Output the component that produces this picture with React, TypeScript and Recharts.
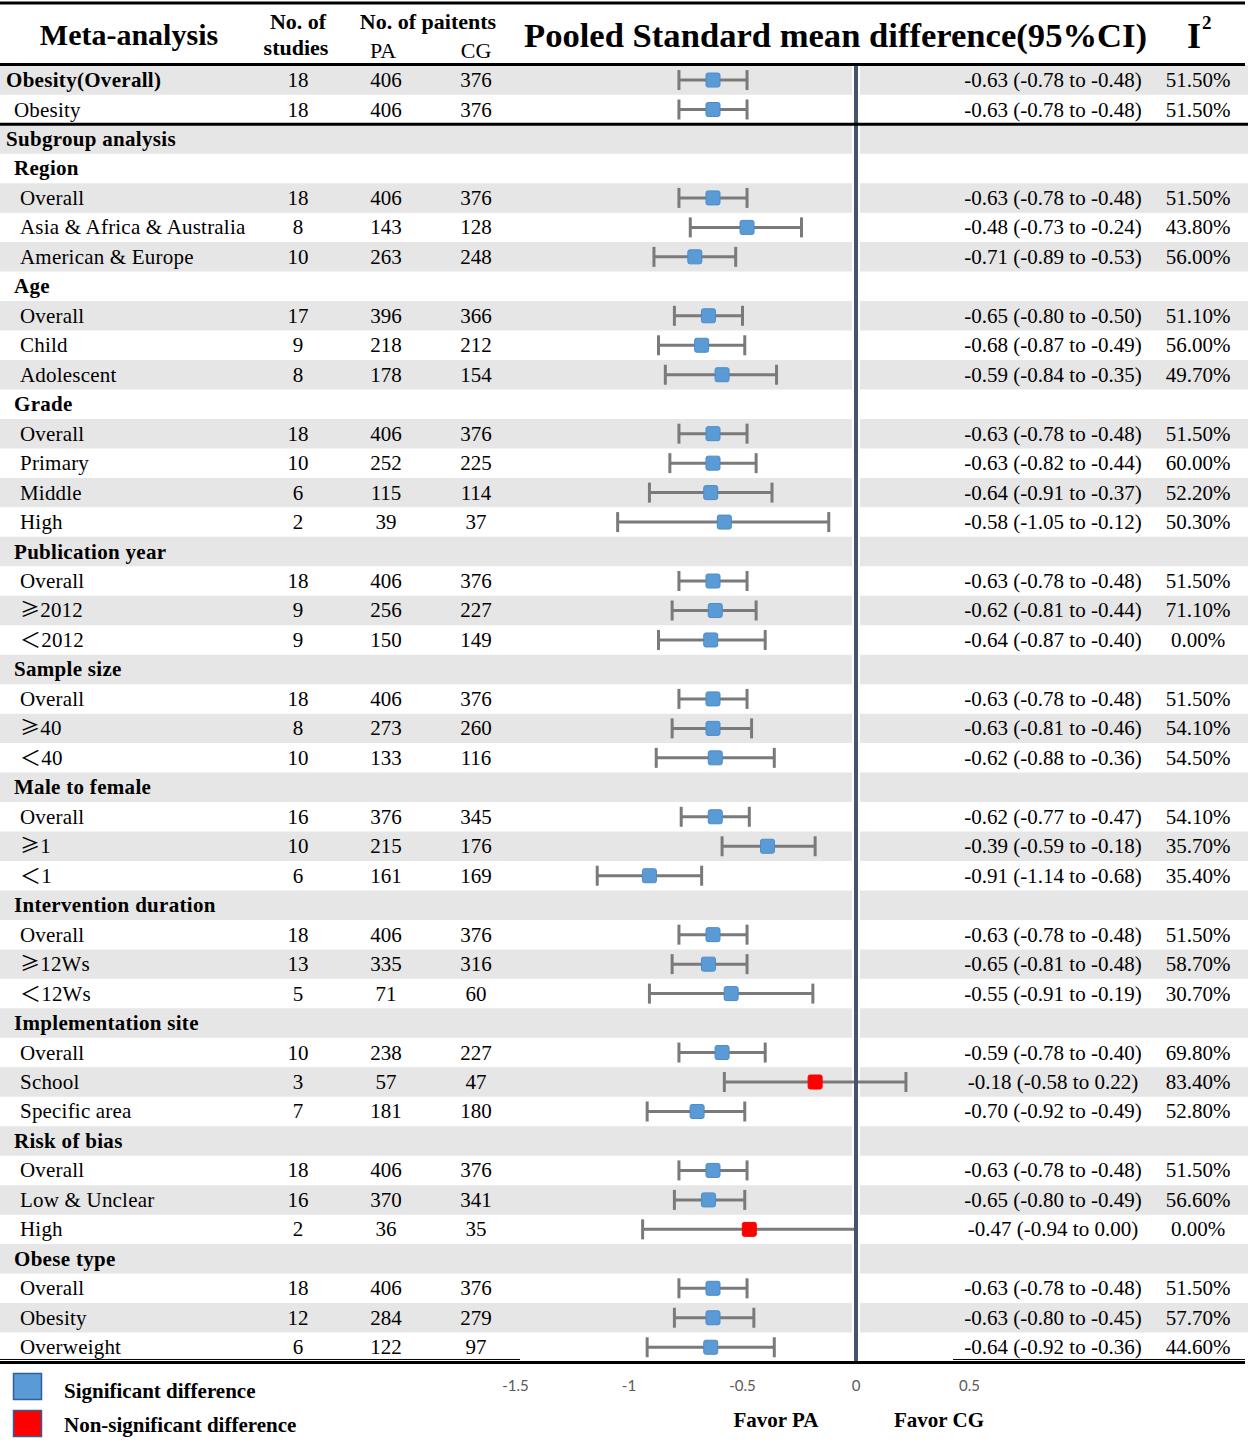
import React from 'react';
import { ComposedChart, Scatter, ErrorBar, XAxis, YAxis, ReferenceArea, ReferenceLine } from 'recharts';

// ---------- data ----------
const labels = [
  'Obesity(Overall)', 'Obesity', 'Subgroup analysis',
  'Region', 'Overall', 'Asia & Africa & Australia', 'American & Europe',
  'Age', 'Overall', 'Child', 'Adolescent',
  'Grade', 'Overall', 'Primary', 'Middle', 'High',
  'Publication year', 'Overall', '≥2012', '＜2012',
  'Sample size', 'Overall', '≥40', '＜40',
  'Male to female', 'Overall', '≥1', '＜1',
  'Intervention duration', 'Overall', '≥12Ws', '＜12Ws',
  'Implementation site', 'Overall', 'School', 'Specific area',
  'Risk of bias', 'Overall', 'Low & Unclear', 'High',
  'Obese type', 'Overall', 'Obesity', 'Overweight',
];
// T = bold title, G = bold group header, A = plain (outdented), I = plain item
const rowStyle = [
  'T', 'A', 'T',
  'G', 'I', 'I', 'I',
  'G', 'I', 'I', 'I',
  'G', 'I', 'I', 'I', 'I',
  'G', 'I', 'I', 'I',
  'G', 'I', 'I', 'I',
  'G', 'I', 'I', 'I',
  'G', 'I', 'I', 'I',
  'G', 'I', 'I', 'I',
  'G', 'I', 'I', 'I',
  'G', 'I', 'I', 'I',
];
const n = null;
const studies = [18, 18, n, n, 18, 8, 10, n, 17, 9, 8, n, 18, 10, 6, 2, n, 18, 9, 9, n, 18, 8, 10, n, 16, 10, 6, n, 18, 13, 5, n, 10, 3, 7, n, 18, 16, 2, n, 18, 12, 6];
const pa = [406, 406, n, n, 406, 143, 263, n, 396, 218, 178, n, 406, 252, 115, 39, n, 406, 256, 150, n, 406, 273, 133, n, 376, 215, 161, n, 406, 335, 71, n, 238, 57, 181, n, 406, 370, 36, n, 406, 284, 122];
const cg = [376, 376, n, n, 376, 128, 248, n, 366, 212, 154, n, 376, 225, 114, 37, n, 376, 227, 149, n, 376, 260, 116, n, 345, 176, 169, n, 376, 316, 60, n, 227, 47, 180, n, 376, 341, 35, n, 376, 279, 97];
const est = [-0.63, -0.63, n, n, -0.63, -0.48, -0.71, n, -0.65, -0.68, -0.59, n, -0.63, -0.63, -0.64, -0.58, n, -0.63, -0.62, -0.64, n, -0.63, -0.63, -0.62, n, -0.62, -0.39, -0.91, n, -0.63, -0.65, -0.55, n, -0.59, -0.18, -0.70, n, -0.63, -0.65, -0.47, n, -0.63, -0.63, -0.64];
const lo = [-0.78, -0.78, n, n, -0.78, -0.73, -0.89, n, -0.80, -0.87, -0.84, n, -0.78, -0.82, -0.91, -1.05, n, -0.78, -0.81, -0.87, n, -0.78, -0.81, -0.88, n, -0.77, -0.59, -1.14, n, -0.78, -0.81, -0.91, n, -0.78, -0.58, -0.92, n, -0.78, -0.80, -0.94, n, -0.78, -0.80, -0.92];
const hi = [-0.48, -0.48, n, n, -0.48, -0.24, -0.53, n, -0.50, -0.49, -0.35, n, -0.48, -0.44, -0.37, -0.12, n, -0.48, -0.44, -0.40, n, -0.48, -0.46, -0.36, n, -0.47, -0.18, -0.68, n, -0.48, -0.48, -0.19, n, -0.40, 0.22, -0.49, n, -0.48, -0.49, 0.00, n, -0.48, -0.45, -0.36];
const i2 = ['51.50%', '51.50%', n, n, '51.50%', '43.80%', '56.00%', n, '51.10%', '56.00%', '49.70%', n, '51.50%', '60.00%', '52.20%', '50.30%', n, '51.50%', '71.10%', '0.00%', n, '51.50%', '54.10%', '54.50%', n, '54.10%', '35.70%', '35.40%', n, '51.50%', '58.70%', '30.70%', n, '69.80%', '83.40%', '52.80%', n, '51.50%', '56.60%', '0.00%', n, '51.50%', '57.70%', '44.60%'];
const xTicks = [-1.5, -1, -0.5, 0, 0.5];

// ---------- layout ----------
const W = 1248;
const H = 1452;
const ZERO_X = 856;
const UNIT = 227;
const XMIN = -ZERO_X / UNIT;
const XMAX = (W - ZERO_X) / UNIT;
const TOP = 65.3;
const ROW_H = 29.47;
const NROWS = labels.length;
const PLOT_BOTTOM = TOP + NROWS * ROW_H;
const XAXIS_H = 30;
const BOTTOM_MARGIN = H - PLOT_BOTTOM - XAXIS_H;

const SERIF = '"Liberation Serif", "Times New Roman", "Noto Sans CJK SC", serif';
const CJK = '"Noto Sans CJK SC", "Liberation Serif", serif';
const SANS = 'Lato, "Liberation Sans", sans-serif';
const BLUE = '#5B9BD5';
const RED = '#FF0000';
const BAND = '#E7E6E6';

const fmt = (v: number) => v.toFixed(2);

const points = est
  .map((e, i) =>
    e == null
      ? null
      : { x: e, y: i, err: [e - (lo[i] as number), (hi[i] as number) - e], sig: (hi[i] as number) < 0 }
  )
  .filter(Boolean) as any[];

const rowIdx = labels.map((_, i) => i);
const bandRows = rowIdx.filter((i) => i % 2 === 0);
const rowPoints = rowIdx.map((i) => ({ x: 0, y: i, row: i }));

const LabelText = ({ s }: { s: string }) => {
  const first = s.charAt(0);
  if (first === '≥' || first === '＜') {
    return (
      <>
        <tspan fontFamily={CJK} fontSize={first === '≥' ? 20 : 21}>{first}</tspan>
        <tspan>{s.slice(1)}</tspan>
      </>
    );
  }
  return <>{s}</>;
};

const RowText = (props: any) => {
  const { cy, payload } = props;
  const i = payload.row as number;
  const st = rowStyle[i];
  const bold = st === 'T' || st === 'G';
  const lx = st === 'T' ? 6 : st === 'I' ? 20 : 14;
  const by = cy + 7;
  return (
    <g fontFamily={SERIF} fontSize={21} fill="#000">
      <text x={lx} y={by} fontWeight={bold ? 'bold' : 'normal'} fill="#000" letterSpacing={bold ? 0.3 : 0.2}>
        <LabelText s={labels[i]} />
      </text>
      {studies[i] != null && (
        <text x={298} y={by} textAnchor="middle" fill="#000">{studies[i]}</text>
      )}
      {pa[i] != null && (
        <text x={386} y={by} textAnchor="middle" fill="#000">{pa[i]}</text>
      )}
      {cg[i] != null && (
        <text x={476} y={by} textAnchor="middle" fill="#000">{cg[i]}</text>
      )}
      {est[i] != null && (
        <text x={1053} y={by} textAnchor="middle" fill="#000">
          {`${fmt(est[i] as number)} (${fmt(lo[i] as number)} to ${fmt(hi[i] as number)})`}
        </text>
      )}
      {i2[i] != null && (
        <text x={1198} y={by} textAnchor="middle" fill="#000">{i2[i]}</text>
      )}
    </g>
  );
};

const Marker = (p: any) => {
  const { cx, cy, payload } = p;
  const s = 14;
  return (
    <rect
      x={cx - s / 2}
      y={cy - s / 2}
      width={s}
      height={s}
      rx={2}
      fill={payload.sig ? BLUE : RED}
      stroke={payload.sig ? '#4A8BCB' : RED}
      strokeWidth={1}
    />
  );
};

export default function App() {
  return (
    <div style={{ position: 'absolute', left: 0, top: 0, width: W, height: H, background: '#fff' }}>
      <ComposedChart
        width={W}
        height={H}
        margin={{ top: TOP, right: 0, bottom: BOTTOM_MARGIN, left: 0 }}
      >
        <XAxis
          type="number"
          dataKey="x"
          domain={[XMIN, XMAX]}
          allowDataOverflow
          ticks={xTicks}
          interval={0}
          height={XAXIS_H}
          axisLine={false}
          tickLine={false}
          tickMargin={12}
          tick={{ fontFamily: SANS, fontSize: 15, fill: '#595959' }}
        />
        <YAxis
          type="number"
          dataKey="y"
          domain={[-0.5, NROWS - 0.5]}
          reversed
          allowDataOverflow
          width={0}
          hide
        />
        {bandRows.map((i) => (
          <ReferenceArea
            key={i}
            x1={XMIN}
            x2={XMAX}
            y1={i - 0.5}
            y2={i + 0.5}
            fill={BAND}
            fillOpacity={1}
            stroke="none"
            ifOverflow="visible"
          />
        ))}
        <ReferenceLine x={0} stroke="#fff" strokeWidth={8} ifOverflow="visible" />
        <Scatter data={rowPoints} shape={<RowText />} isAnimationActive={false} />
        <Scatter data={points} shape={<Marker />} isAnimationActive={false}>
          <ErrorBar dataKey="err" direction="x" width={10} strokeWidth={3} stroke="#7A7A7A" />
        </Scatter>
        <ReferenceLine x={0} stroke="#44546A" strokeWidth={4} ifOverflow="visible" />
        <ReferenceLine y={1.5} stroke="#000" strokeWidth={3} ifOverflow="visible" />
      </ComposedChart>

      <svg
        width={W}
        height={H}
        style={{ position: 'absolute', left: 0, top: 0, pointerEvents: 'none' }}
      >
        {/* table rules */}
        <line x1={0} x2={1245} y1={3} y2={3} stroke="#000" strokeWidth={3} />
        <line x1={0} x2={1245} y1={64.5} y2={64.5} stroke="#000" strokeWidth={3} />
        <line x1={0} x2={1245} y1={PLOT_BOTTOM + 0.5} y2={PLOT_BOTTOM + 0.5} stroke="#000" strokeWidth={3} />
        <line x1={0} x2={520} y1={PLOT_BOTTOM - 2.5} y2={PLOT_BOTTOM - 2.5} stroke="#000" strokeWidth={1} />
        <line x1={953} x2={1245} y1={PLOT_BOTTOM - 2.5} y2={PLOT_BOTTOM - 2.5} stroke="#000" strokeWidth={1} />

        {/* header */}
        <g fontFamily={SERIF} fill="#000">
          <text x={129} y={45} fontSize={30} fontWeight="bold" textAnchor="middle">Meta-analysis</text>
          <text x={298} y={29} fontSize={22} fontWeight="bold" textAnchor="middle">No. of</text>
          <text x={296} y={55} fontSize={22} fontWeight="bold" textAnchor="middle">studies</text>
          <text x={428} y={29} fontSize={22} fontWeight="bold" textAnchor="middle">No. of paitents</text>
          <text x={383} y={58} fontSize={22} textAnchor="middle">PA</text>
          <text x={476} y={58} fontSize={22} textAnchor="middle">CG</text>
          <text x={524} y={47} fontSize={34} fontWeight="bold" textLength={623} lengthAdjust="spacingAndGlyphs">
            Pooled Standard mean difference(95%CI)
          </text>
          <text x={1187} y={48} fontSize={36} fontWeight="bold">I</text>
          <text x={1202} y={29} fontSize={19} fontWeight="bold">2</text>
        </g>

        {/* legend */}
        <rect x={13.5} y={1373.5} width={28} height={26} fill={BLUE} stroke="#2E5F9E" strokeWidth={1.5} />
        <rect x={13.5} y={1410.5} width={28} height={26} fill={RED} stroke="#2E5F9E" strokeWidth={1.5} />
        <g fontFamily={SERIF} fontSize={21} fontWeight="bold" fill="#000">
          <text x={64} y={1398}>Significant difference</text>
          <text x={64} y={1432}>Non-significant difference</text>
          <text x={776} y={1427} textAnchor="middle">Favor PA</text>
          <text x={939} y={1427} textAnchor="middle">Favor CG</text>
        </g>
      </svg>
    </div>
  );
}
